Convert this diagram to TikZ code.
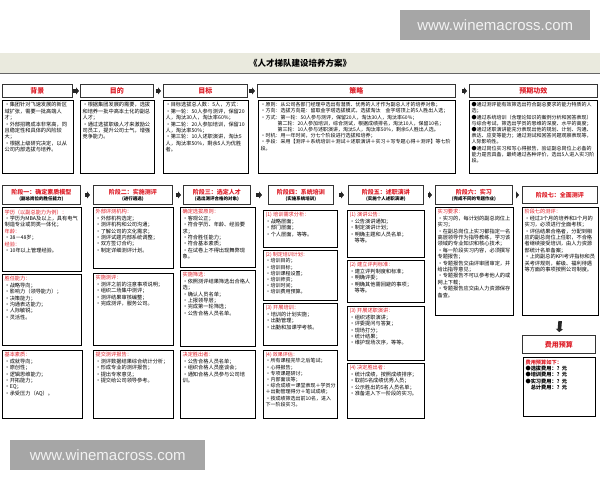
\documentclass[tikz,border=0pt]{standalone}
\usepackage{fontspec}
\setmainfont{Noto Sans CJK SC}
\newfontfamily\wmfont{Liberation Sans}
\usetikzlibrary{arrows.meta,shadows}
\XeTeXlinebreaklocale "zh"
\XeTeXlinebreakskip=0pt plus 0.5pt
\definecolor{rd}{RGB}{222,30,40}
\definecolor{band}{RGB}{234,234,222}
\definecolor{wm}{RGB}{166,166,166}
\newcommand\rl[1]{\textcolor{rd}{#1}}
\newcommand\pb[3]{\parbox[t][#2pt][t]{#1pt}{\raggedright #3}}
\newcommand\subt[1]{{\fontsize{4.5}{5}\selectfont\color{black}#1}}
\newcommand\smallfs{\fontsize{5}{6.2}\selectfont}
\begin{document}
\begin{tikzpicture}[x=1pt,y=-1pt,
  hdr/.style={draw=black!80, line width=0.9pt, fill=white, anchor=north west, inner sep=0pt,
    font=\fontsize{7}{8}\selectfont\bfseries, text=rd,
    drop shadow={shadow xshift=0.8pt, shadow yshift=-0.8pt, fill=black!45, opacity=0.6}},
  shdr/.style={hdr, align=center, font=\fontsize{6}{7}\selectfont\bfseries},
  cbox/.style={draw=black, line width=1.1pt, fill=white, anchor=north west, inner sep=2pt,
    font=\fontsize{5.2}{6.4}\selectfont, text=black,
    drop shadow={shadow xshift=0.8pt, shadow yshift=-0.8pt, fill=black!45, opacity=0.6}},
  blk/.style={-{Triangle[length=3pt,width=7pt]}, line width=3.6pt, black!85},
  wmbox/.style={fill=wm, anchor=north west, inner sep=0pt, text=white!95!black,
    font=\wmfont\fontsize{15}{16}\selectfont}
]
\useasboundingbox (0,0) rectangle (600,480);
\fill[white] (0,0) rectangle (600,480);

% watermarks
\node[wmbox, minimum width=190pt, minimum height=30pt] (wm1) at (400,10) {www.winemacross.com};

% title band
\fill[band] (0,53) rectangle (600,73);
\draw[black!60, line width=1.3pt] (0,73.6) -- (600,73.6);
\node[font=\fontsize{8.5}{10}\selectfont\bfseries] (title) at (300,63) {《人才梯队建设培养方案》};

% row 1 headers
\node[hdr, minimum width=70pt, minimum height=13pt] (h1) at (2,84) {背景};
\node[hdr, minimum width=73pt, minimum height=13pt] (h2) at (80,84) {目的};
\node[hdr, minimum width=84pt, minimum height=13pt] (h3) at (163,84) {目标};
\node[hdr, minimum width=198pt, minimum height=13pt] (h4) at (257,84) {策略};
\node[hdr, minimum width=128pt, minimum height=13pt] (h5) at (469,84) {预期功效};
\draw[blk, shorten <=0.5pt, shorten >=1pt] (h1) -- (h2);
\draw[blk, shorten <=2pt, shorten >=2pt] (h2) -- (h3);
\draw[blk, shorten <=1.5pt, shorten >=2pt] (h3) -- (h4);
\draw[blk, shorten <=6pt, shorten >=2pt] (h4) -- (h5);

% row 1 contents
\node[cbox] (b1) at (2,100) {\pb{67}{69}{•集团针对飞速发展的新区域扩张，需要一批高端人才；\par
•外部招聘成本非常高，同且稳定性和具体的风险较大；\par
•根据上级研究决定，以从公司内部选拔与培养。}};
\node[cbox] (b2) at (80,100) {\pb{70}{69}{•根据集团发展的需要，选拔和培养一批中高本土化的副总人才；\par
•通过选拔职级人才来激励公司员工，提升公司士气，增强竞争能力。}};
\node[cbox] (b3) at (163,100) {\pb{81}{69}{•目标选拔总人数：5人，方式：\par
•第一轮：50人参与测评，保留20人，淘汰30人，淘汰率60\%；\par
•第二轮：20人参加培训，保留10人，淘汰率50\%；\par
•第三轮：10人述职演讲，淘汰5人，淘汰率50\%，剩余5人为优胜者。}};
\node[cbox] (b4) at (258,100) {\pb{193}{69}{\smallfs •原则：从公司各部门经理中选出有潜质、优秀的人才作为副总人才的培养对象；\par
•方向：选拔方向是：留取金字塔选拔模式，选拔淘汰　金字塔顶上的5人胜出人选；\par
•方式：第一轮：50人参与测评，保留20人，淘汰30人，淘汰率60\%；\par
{\leftskip=17pt 第二轮：20人参加培训，综合测试，根据成绩排名，淘汰10人，保留10名；\par
第三轮：10人参与述职演讲，淘汰5人，淘汰率50\%，剩余5人胜出人选。\par}
•时机：用一年时间，分七个阶段进行选拔和培养；\par
•手段：采用【测评＋系统培训＋测试＋述职演讲＋实习＋写专题心得＋测评】等七阶段。}};
\node[cbox] (b5) at (469,100) {\pb{124}{69}{\smallfs ●通过测评能有效筛选出符合副总要求的能力特质的人选；\par
●通过系统培训（含理论知识的案例分析和回答表现）与综合考试，筛选出学员的思维的深度、水平的高度；\par
●通过述职演讲能充分表现出他的规划、计划、沟通、表达、应变等能力；通过测试和回答问题观察表现等，人际影响性。\par
●通过岗位实习和写心得报告，验证副总岗位上必备的能力是否具备，最终通过各种评价，选出5人进入实习阶段。}};

% row 2 headers
\node[shdr, minimum width=78pt, minimum height=19pt] (s1) at (2,185) {阶段一：确定素质模型\\[-1pt]\subt{(副总岗位的胜任能力)}};
\node[shdr, minimum width=79pt, minimum height=19pt] (s2) at (93,185) {阶段二：实施测评\\[-1pt]\subt{(进行遴选)}};
\node[shdr, minimum width=67pt, minimum height=19pt] (s3) at (183,185) {阶段三：选定人才\\[-1pt]\subt{(选出测评合格的对象)}};
\node[shdr, minimum width=65pt, minimum height=19pt] (s4) at (268,185) {阶段四：系统培训\\[-1pt]\subt{(实施系统培训)}};
\node[shdr, minimum width=75pt, minimum height=19pt] (s5) at (348,185) {阶段五：述职演讲\\[-1pt]\subt{(实施个人述职演讲)}};
\node[shdr, minimum width=77pt, minimum height=19pt] (s6) at (435,185) {阶段六：实习\\[-1pt]\subt{(完成不同的专题作业)}};
\node[shdr, minimum width=75pt, minimum height=17pt] (s7) at (522,186) {阶段七：全面测评};
\draw[blk, shorten <=4pt, shorten >=3pt] (s1) -- (s2);
\draw[blk, shorten <=3pt, shorten >=2pt] (s2) -- (s3);
\draw[blk, shorten <=5pt, shorten >=6pt] (s3) -- (s4);
\draw[blk, shorten <=5pt, shorten >=4pt] (s4) -- (s5);
\draw[blk, shorten <=4pt, shorten >=3pt] (s5) -- (s6);
\draw[blk, shorten <=3pt, shorten >=3pt] (s6) -- (s7);

% column 1
\node[cbox] (c1a) at (2,207) {\pb{75}{60}{\rl{学历（以副总能力为例）：}\par
•学历为MBA及以上，具有电气制造专业或同类一体化；\par
\rl{年龄：}\par •38－48岁；\par
\rl{经验：}\par •10年以上管理经验。}};
\node[cbox] (c1b) at (2,274) {\pb{75}{67}{\rl{胜任能力：}\par
•战略导向；\par •影响力（领导能力）；\par •决策能力；\par •沟通表达能力；\par •人际敏锐；\par •灵活性。}};
\node[cbox] (c1c) at (2,350) {\pb{76}{64}{\rl{基本素质：}\par
•成就导向；\par •原创性；\par •逻辑思维能力；\par •开拓能力；\par •EQ；\par •承受压力（AQ）。}};

% column 2
\node[cbox] (c2a) at (93,207) {\pb{76}{57}{\rl{外部评测机构：}\par
•外部机构选定；\par •测评机构和公司沟通；\par •了解公司的文化需求；\par •测评试题内部系统调整；\par •双方签订合约；\par •制定详细测评计划。}};
\node[cbox] (c2b) at (93,273) {\pb{76}{68}{\rl{实施测评：}\par
•测评之前的注意事项说明；\par •组织二场集中测评；\par •测评结果审核编整；\par •完成测评，服务公司。}};
\node[cbox] (c2c) at (93,350) {\pb{76}{64}{\rl{提交测评报告：}\par
•测评数据结果综合统计分析；\par •形成专业的测评报告；\par •提出专家意见；\par •提交给公司领导参考。}};

% column 3
\node[cbox] (c3a) at (180,207) {\pb{71}{56}{\rl{确定选拔原则：}\par
•客观公正；\par •符合学历、年龄、经验要求；\par •符合胜任能力；\par •符合基本素质；\par •在试卷上不得出现舞弊现象。}};
\node[cbox] (c3b) at (180,270) {\pb{71}{72}{\rl{实施筛选：}\par
•依照测评结果筛选出合格人选；\par •确认人员名单；\par •上报领导层；\par •完成第一轮筛选；\par •公告合格人员名单。}};
\node[cbox] (c3c) at (180,350) {\pb{71}{64}{\rl{决定胜出者：}\par
•公告合格人员名单；\par •组织合格人员座谈会；\par •通知合格人员参与公司培训。}};

% column 4
\node[cbox] (c4a) at (263,210) {\pb{70}{33}{\rl{(1) 培训需求分析：}\par
•战略层面；\par •部门层面；\par •个人层面，等等。}};
\node[cbox] (c4b) at (263,250) {\pb{70}{46}{\smallfs\rl{(2) 制定培训计划：}\par
•培训目的；\par •培训目标；\par •培训课程设置；\par •培训师资；\par •培训时间；\par •培训费用预算。}};
\node[cbox] (c4c) at (263,303) {\pb{70}{38}{\rl{(3) 开展培训：}\par
•培训的计划实施；\par •出勤管理；\par •出勤和加课学考核。}};
\node[cbox] (c4d) at (263,350) {\pb{70}{64}{\smallfs\rl{(4) 效果评估：}\par
•所有课程完毕之后笔试；\par •心得报告；\par •专项课题研讨；\par •内部面谈等；\par
•综合成绩＝课堂表现＋学员分＋出勤管理得分＋笔试成绩；\par
•按成绩筛选出前10名，进入下一阶段实习。}};

% column 5
\node[cbox] (c5a) at (347,210) {\pb{73}{43}{\rl{(1) 演讲公告：}\par
•公告演讲通知；\par •制定演讲计划；\par •明确主题和人员名单；\par \hspace*{5pt}等等。}};
\node[cbox] (c5b) at (347,260) {\pb{73}{38}{\rl{(2) 建立评判标准：}\par
•建立评判制度和标准；\par •明确评委；\par •明确其他需回避的事项；\par \hspace*{5pt}等等。}};
\node[cbox] (c5c) at (347,306) {\pb{73}{50}{\rl{(3) 开展述职演讲：}\par
•组织述职演讲；\par •评委提问与答复；\par •现场打分；\par •统计结果；\par •维护现场次序，等等。}};
\node[cbox] (c5d) at (347,363) {\pb{73}{51}{\rl{(4) 决定胜出者：}\par
•统计成绩，按照成绩排序；\par •取前5名成绩优秀人员；\par •公示胜出的5名人员名单；\par •准备进入下一阶段的实习。}};

% column 6
\node[cbox] (c6) at (435,207) {\pb{74}{104}{\rl{实习要求：}\par
•实习的，每计划的副总岗位上实习；\par
•在副总岗位上实习都指定一名高层领导作为指导教练，学习该领域的专业知识和核心技术；\par
•每一阶段实习内容，必须撰写专题报告；\par
•专题报告交由评审团审定，并给出指导意见；\par
•专题报告不可以参考他人的或网上下载；\par
•专题报告应交由人力资源保存备查。}};

% column 7
\node[cbox] (c7) at (522,207) {\pb{72}{104}{\rl{阶段七的测评：}\par
•经过3个月的培养和3个月的实习，必须进行全面考核；\par
•评估结果合格者，分配到相应的副总岗位上任职，不合格者继续接受培训，由人力资源部统计名单备案；\par
•上岗副总的KPI考评指标和员关考评规则，薪级、福利待遇等方面的事项按照公司制度。}};
\node[hdr, minimum width=73pt, minimum height=18pt] (fy) at (522,335) {费用预算};
\draw[blk, shorten <=5pt, shorten >=3pt] (c7.south) -- (fy.north);
\node[cbox] (fyc) at (523,357) {\pb{68}{55}{\bfseries\rl{费用预算如下：}\par
●选拔费用：？元\par ●培训费用：？元\par ●实习费用：？元\par \hspace*{5.2pt}总计费用：？元}};

\node[wmbox, minimum width=195pt, minimum height=30pt] (wm2) at (10,440) {www.winemacross.com};
\end{tikzpicture}
\end{document}
